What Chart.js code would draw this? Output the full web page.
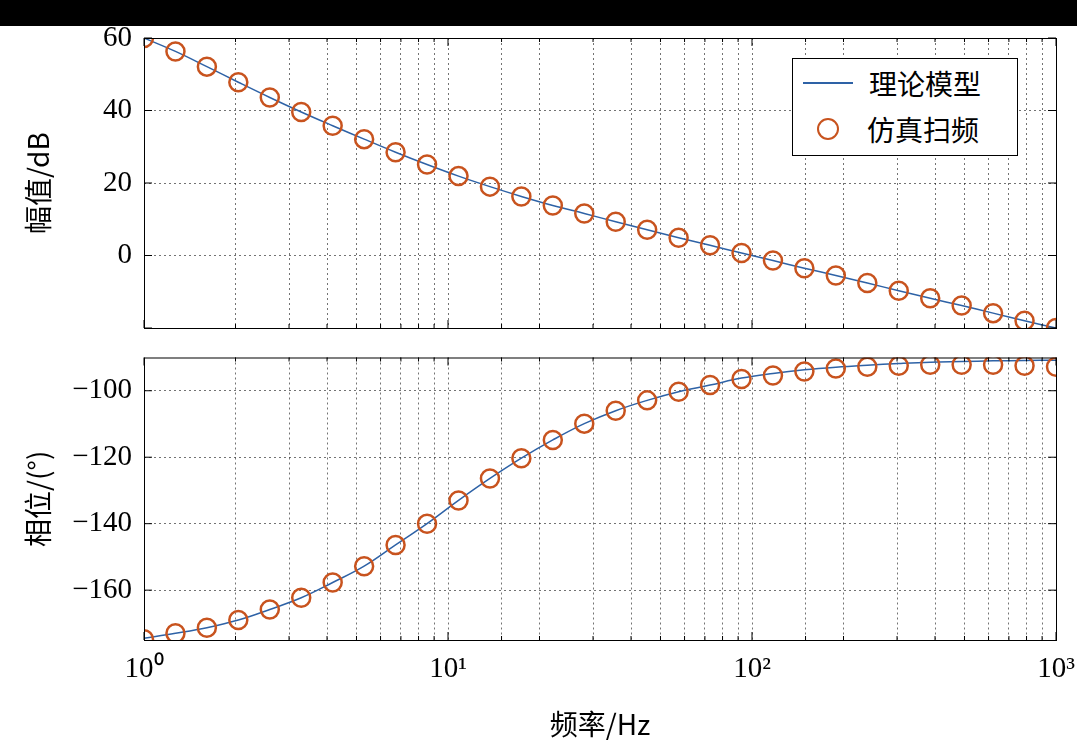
<!DOCTYPE html>
<html><head><meta charset="utf-8">
<script src="https://cdn.jsdelivr.net/npm/chart.js@4"></script>
<style>
body{margin:0;width:1077px;height:741px;background:#fff;position:relative;overflow:hidden;font-family:"Liberation Serif",serif}
#bar{position:absolute;left:0;top:0;width:1077px;height:26px;background:#000}
.c{position:absolute;left:0}
#legend{position:absolute;left:792px;top:58px;width:224px;height:96px;border:1px solid #000;background:#fff;font-family:"Noto Sans CJK SC";font-size:28px;color:#000}
.row{position:absolute;left:0;height:46px;display:flex;align-items:center}
</style></head><body>
<div id="bar"></div>
<canvas id="c1" class="c" style="top:26px" width="1077" height="320"></canvas>
<canvas id="c2" class="c" style="top:346px" width="1077" height="395"></canvas>
<div id="legend">
 <div class="row" style="top:1px"><div style="width:50px;height:2px;background:#2E62A6;margin-left:10px"></div><span style="margin-left:16px">理论模型</span></div>
 <div class="row" style="top:47px"><div style="width:18px;height:18px;border:2.5px solid #C8531E;border-radius:50%;margin-left:24px"></div><span style="margin-left:28px">仿真扫频</span></div>
</div>
<script>
const freq=[1,1.269,1.610,2.043,2.593,3.290,4.175,5.298,6.723,8.532,10.83,13.74,17.43,22.12,28.07,35.62,45.20,57.36,72.79,92.37,117.2,148.7,188.7,239.5,303.9,385.7,489.4,621.0,788.0,1000];
const magModel=[60,56.3,52.1,47.8,43.6,39.6,35.8,32.1,28.5,25.1,21.9,19.0,16.3,13.8,11.6,9.3,7.1,4.9,2.8,0.7,-1.4,-3.5,-5.5,-7.6,-9.7,-11.8,-13.8,-15.9,-18.0,-20.0];
const magSim=[60,56.3,52.1,47.8,43.6,39.6,35.8,32.1,28.5,25.1,21.9,19.0,16.3,13.8,11.6,9.3,7.1,4.9,2.8,0.7,-1.4,-3.5,-5.5,-7.6,-9.7,-11.8,-13.8,-15.9,-18.0,-20.0];
const phaseModel=[-174.5,-173,-171.3,-169,-165.8,-162.3,-157.7,-152.8,-146.4,-140,-133,-126.4,-120.3,-114.8,-109.9,-106,-102.9,-100.3,-98.3,-96.2,-94.8,-93.7,-92.9,-92.3,-91.8,-91.4,-91.2,-91.0,-90.9,-90.8];
const phaseSim=[-174.8,-173,-171.3,-169,-165.8,-162.3,-157.7,-152.8,-146.4,-140,-133,-126.4,-120.3,-114.8,-109.9,-106,-102.9,-100.3,-98.3,-96.5,-95.4,-94.2,-93.3,-92.8,-92.5,-92.2,-92.2,-92.2,-92.5,-92.8];
const magTicks=[-20,0,20,40,60];
const phaseTicks=[-160,-140,-120,-100];
const xLabels={1:'10⁰',10:'10¹',100:'10²',1000:'10³'};

const pts=(ys)=>freq.map((f,i)=>({x:f,y:ys[i]}));
const frame={id:'frame',afterDraw(ch){const a=ch.chartArea,c=ch.ctx;c.save();c.strokeStyle='#000';c.lineWidth=1;c.strokeRect(a.left+0.5,a.top+0.5,a.right-a.left,a.bottom-a.top);
 const xs=ch.scales.x,ys=ch.scales.y;c.beginPath();
 xs.ticks.forEach(t=>{const p=xs.getPixelForValue(t.value);const L=xLabels[t.value]?8:4;c.moveTo(p,a.bottom);c.lineTo(p,a.bottom-L);c.moveTo(p,a.top);c.lineTo(p,a.top+L);});
 ys.ticks.forEach(t=>{const p=ys.getPixelForValue(t.value);c.moveTo(a.left,p);c.lineTo(a.left+8,p);c.moveTo(a.right,p);c.lineTo(a.right-8,p);});
 c.stroke();c.restore();}};
const tickFont={family:'Liberation Serif',size:29};
function make(id,model,sim,ymin,ymax,yt,title,showX,pad){
 return new Chart(document.getElementById(id),{type:'line',
 data:{datasets:[
  {data:pts(model),borderColor:'#2E62A6',borderWidth:1.5,pointRadius:0,tension:0.4,order:2},
  {data:pts(sim),showLine:false,borderColor:'#C8531E',backgroundColor:'rgba(0,0,0,0)',pointRadius:9,pointBorderWidth:2.5,order:1}]},
 options:{responsive:false,animation:false,layout:{padding:pad},
  plugins:{legend:{display:false},tooltip:{enabled:false}},
  scales:{
   x:{type:'logarithmic',min:1,max:1000,
    grid:{color:'rgba(0,0,0,0.55)',lineWidth:1,drawTicks:false},border:{display:false,dash:[2,3]},
    ticks:{display:showX,font:tickFont,color:'#000',padding:12,autoSkip:false,maxRotation:0,callback:(v)=>xLabels[v]||''},
    title:{display:showX,text:'频率/Hz',font:{family:'Noto Sans CJK SC',size:28},color:'#000',padding:{top:0,bottom:0}},
    afterFit:(s)=>{s.height=showX?101:0;s.paddingLeft=0;s.paddingRight=0;}},
   y:{min:ymin,max:ymax,afterBuildTicks:(s)=>{s.ticks=yt.map(v=>({value:v}));},
    grid:{color:'rgba(0,0,0,0.55)',drawTicks:false},border:{display:false,dash:[2,3]},
    ticks:{font:tickFont,color:'#000',padding:12,callback:(v)=>v===-20&&ymax===60?'':String(v).replace('-','−')},
    title:{display:true,text:title,font:{family:'Noto Sans CJK SC',size:28},color:'#000',padding:{top:0,bottom:2}},
    afterFit:(s)=>{s.width=144-pad.left;s.paddingTop=0;s.paddingBottom=0;}}
  }},plugins:[frame]});
}
make('c1',magModel,magSim,-20,60,magTicks,'幅值/dB',false,{left:22,right:21,top:12,bottom:18});
make('c2',phaseModel,phaseSim,-175,-90,phaseTicks,'相位/(°)',true,{left:22,right:21,top:4,bottom:0});
</script></body></html>
